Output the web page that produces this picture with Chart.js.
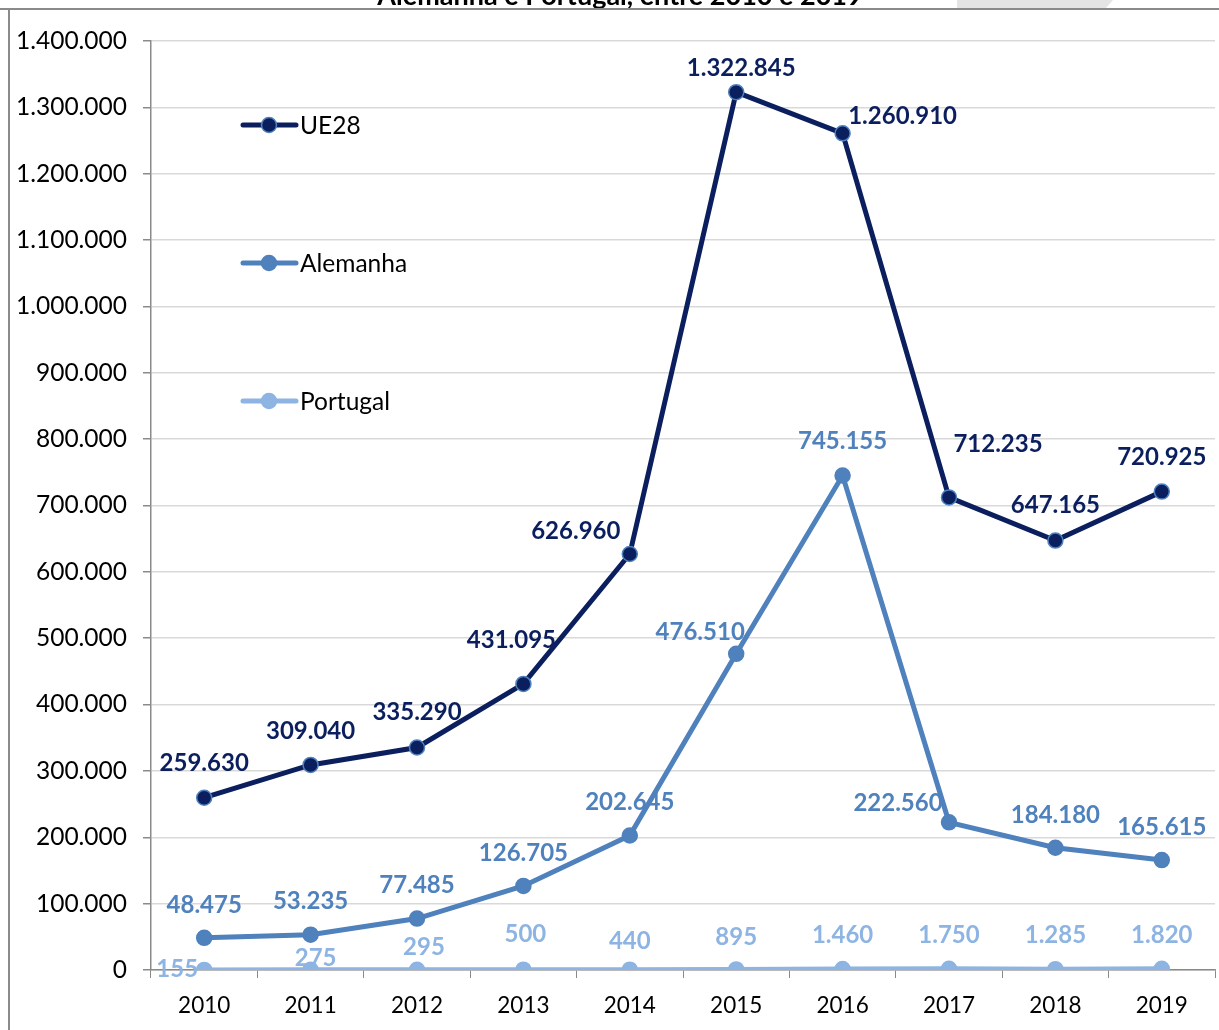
<!DOCTYPE html>
<html><head><meta charset="utf-8">
<script src="https://cdn.jsdelivr.net/npm/chart.js@4/dist/chart.umd.min.js"></script>
<style>html,body{margin:0;padding:0;background:#fff}#wrap{width:1219px;height:1030px;position:relative}</style>
</head><body><div id="wrap"><canvas id="c"></canvas></div>
<script>
const years = ['2010','2011','2012','2013','2014','2015','2016','2017','2018','2019'];
const ue28 = [259630, 309040, 335290, 431095, 626960, 1322845, 1260910, 712235, 647165, 720925];
const alemanha = [48475, 53235, 77485, 126705, 202645, 476510, 745155, 222560, 184180, 165615];
const portugal = [155, 275, 295, 500, 440, 895, 1460, 1750, 1285, 1820];
const seriesNames = ['UE28', 'Alemanha', 'Portugal'];
const titleText = 'Alemanha e Portugal, entre 2010 e 2019';
const yMin = 0, yMax = 1400000, yStep = 100000;

function fmt(v){ return String(Math.round(v)).replace(/\B(?=(\d{3})+(?!\d))/g, '.'); }

const FONT = 'Lato, "Open Sans", sans-serif';
const colors = ['#0B1F5E', '#4F81BD', '#8DB4E2'];
const pointBorders = ['#4F81BD', '#4F81BD', '#8DB4E2'];

// label offsets (dx, dy) from each point, per series
const labelOffsets = [
  [[0,-34],[0,-34],[0,-35],[-12,-44],[-54,-23],[5,-24],[60,-17],[49,-53],[0,-35],[0,-34]],
  [[0,-33],[0,-33],[0,-33],[0,-33],[0,-33],[-36,-22],[0,-34],[-51,-19],[0,-33],[0,-33]],
  [[-27,-1],[5,-12],[7,-23],[2,-35],[0,-28],[0,-32],[0,-34],[0,-34],[0,-34],[0,-34]]
];
const legendRows = [125, 263, 401];

const framePlugin = {
  id: 'frame',
  beforeDraw(chart){
    const ctx = chart.ctx;
    ctx.save();
    ctx.fillStyle = '#e4e4e4';
    ctx.beginPath();
    ctx.moveTo(957,0); ctx.lineTo(1113,0); ctx.lineTo(1106,8); ctx.lineTo(957,8); ctx.closePath();
    ctx.fill();
    ctx.fillStyle = '#000';
    ctx.font = 'bold 27px ' + FONT;
    ctx.textAlign = 'center';
    ctx.textBaseline = 'alphabetic';
    ctx.fillText(titleText, 620, 5);
    ctx.strokeStyle = '#8a8a8a';
    ctx.lineWidth = 2;
    ctx.beginPath();
    ctx.moveTo(0,9); ctx.lineTo(1219,9);
    ctx.moveTo(9,9); ctx.lineTo(9,1030);
    ctx.stroke();
    ctx.restore();
  }
};

const labelPlugin = {
  id: 'valueLabels',
  afterDatasetsDraw(chart){
    const ctx = chart.ctx;
    ctx.save();
    ctx.font = 'bold 24px ' + FONT;
    ctx.textAlign = 'center';
    ctx.textBaseline = 'middle';
    chart.data.datasets.forEach((ds, di) => {
      const meta = chart.getDatasetMeta(di);
      ctx.fillStyle = colors[di];
      meta.data.forEach((pt, i) => {
        const off = labelOffsets[di][i];
        ctx.fillText(fmt(ds.data[i]), pt.x + off[0], pt.y + off[1]);
      });
    });
    ctx.restore();
  }
};

const legendPlugin = {
  id: 'sideLegend',
  afterDraw(chart){
    const ctx = chart.ctx;
    ctx.save();
    chart.data.datasets.forEach((ds, di) => {
      const y = legendRows[di];
      ctx.strokeStyle = colors[di];
      ctx.lineWidth = 5;
      ctx.lineCap = 'round';
      ctx.beginPath(); ctx.moveTo(243, y); ctx.lineTo(296, y); ctx.stroke();
      ctx.fillStyle = colors[di];
      ctx.strokeStyle = pointBorders[di];
      ctx.lineWidth = 1.5;
      ctx.beginPath(); ctx.arc(269, y, 7.5, 0, Math.PI*2); ctx.fill(); ctx.stroke();
      ctx.fillStyle = '#000';
      ctx.font = '24.5px ' + FONT;
      ctx.textAlign = 'left';
      ctx.textBaseline = 'middle';
      ctx.fillText(ds.label, 300, y + 1);
    });
    ctx.restore();
  }
};

const datasets = [ue28, alemanha, portugal].map((d, i) => ({
  label: seriesNames[i],
  data: d,
  borderColor: colors[i],
  backgroundColor: colors[i],
  pointBackgroundColor: colors[i],
  pointBorderColor: pointBorders[i],
  pointBorderWidth: 1.5,
  pointRadius: 7.5,
  borderWidth: 5,
  tension: 0,
  order: i
}));

new Chart(document.getElementById('c'), {
  type: 'line',
  data: { labels: years, datasets },
  options: {
    responsive: true,
    maintainAspectRatio: false,
    animation: false,
    layout: { autoPadding: false, padding: { left: 0, right: 4, top: 41, bottom: 0 } },
    plugins: { legend: { display: false }, tooltip: { enabled: false }, title: { display: false } },
    scales: {
      x: {
        type: 'category',
        offset: true,
        grid: { display: true, drawOnChartArea: false, drawTicks: true, tickLength: 8, color: '#8a8a8a', offset: true },
        border: { display: true, color: '#8a8a8a', width: 1.5 },
        ticks: { color: '#000', font: { family: FONT, size: 22.5 }, padding: 14, maxRotation: 0, autoSkip: false },
        afterFit(scale){ scale.height = 60; }
      },
      y: {
        min: yMin, max: yMax,
        ticks: { stepSize: yStep, color: '#000', font: { family: FONT, size: 24.5 }, padding: 16, callback: v => fmt(v) },
        grid: { color: '#d9d9d9', lineWidth: 1.5, tickColor: '#8a8a8a', tickLength: 8 },
        border: { display: true, color: '#8a8a8a', width: 1.5 },
        afterFit(scale){ scale.width = 151; }
      }
    }
  },
  plugins: [framePlugin, labelPlugin, legendPlugin]
});
</script></body></html>
